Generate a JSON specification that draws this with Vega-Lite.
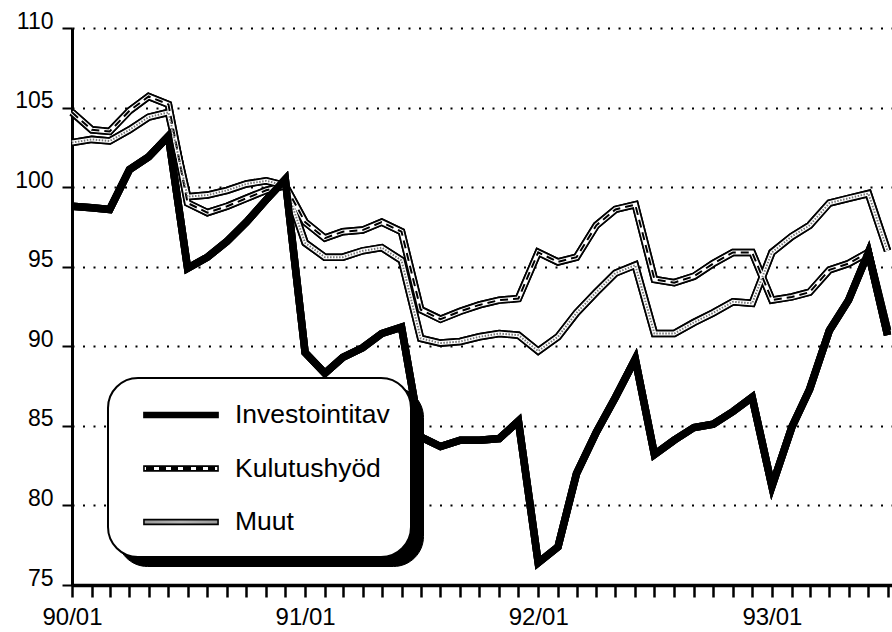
{
  "$schema": "https://vega.github.io/schema/vega-lite/v6.json",
  "width": 820,
  "height": 557,
  "autosize": {"type": "none"},
  "padding": {"left": 72, "top": 28, "right": 0, "bottom": 47},
  "background": "white",
  "config": {"view": {"stroke": null}, "font": "Liberation Sans"},
  "data": {
    "values": [
      {"month": "1990-01-01", "Investointitav": 98.8, "Kulutushyöd": 104.7, "Muut": 102.8},
      {"month": "1990-02-01", "Investointitav": 98.7, "Kulutushyöd": 103.6, "Muut": 103.0},
      {"month": "1990-03-01", "Investointitav": 98.6, "Kulutushyöd": 103.5, "Muut": 102.9},
      {"month": "1990-04-01", "Investointitav": 101.1, "Kulutushyöd": 104.8, "Muut": 103.6},
      {"month": "1990-05-01", "Investointitav": 101.9, "Kulutushyöd": 105.7, "Muut": 104.4},
      {"month": "1990-06-01", "Investointitav": 103.2, "Kulutushyöd": 105.2, "Muut": 104.7},
      {"month": "1990-07-01", "Investointitav": 94.9, "Kulutushyöd": 99.0, "Muut": 99.4},
      {"month": "1990-08-01", "Investointitav": 95.6, "Kulutushyöd": 98.4, "Muut": 99.5},
      {"month": "1990-09-01", "Investointitav": 96.6, "Kulutushyöd": 98.8, "Muut": 99.8},
      {"month": "1990-10-01", "Investointitav": 97.8, "Kulutushyöd": 99.3, "Muut": 100.2},
      {"month": "1990-11-01", "Investointitav": 99.2, "Kulutushyöd": 99.8, "Muut": 100.4},
      {"month": "1990-12-01", "Investointitav": 100.5, "Kulutushyöd": 100.1, "Muut": 100.1},
      {"month": "1991-01-01", "Investointitav": 89.6, "Kulutushyöd": 97.8, "Muut": 96.5},
      {"month": "1991-02-01", "Investointitav": 88.3, "Kulutushyöd": 96.8, "Muut": 95.6},
      {"month": "1991-03-01", "Investointitav": 89.3, "Kulutushyöd": 97.2, "Muut": 95.6},
      {"month": "1991-04-01", "Investointitav": 89.9, "Kulutushyöd": 97.3, "Muut": 96.0},
      {"month": "1991-05-01", "Investointitav": 90.8, "Kulutushyöd": 97.8, "Muut": 96.2},
      {"month": "1991-06-01", "Investointitav": 91.2, "Kulutushyöd": 97.2, "Muut": 95.4},
      {"month": "1991-07-01", "Investointitav": 84.3, "Kulutushyöd": 92.3, "Muut": 90.5},
      {"month": "1991-08-01", "Investointitav": 83.7, "Kulutushyöd": 91.7, "Muut": 90.2},
      {"month": "1991-09-01", "Investointitav": 84.1, "Kulutushyöd": 92.2, "Muut": 90.3},
      {"month": "1991-10-01", "Investointitav": 84.1, "Kulutushyöd": 92.6, "Muut": 90.6},
      {"month": "1991-11-01", "Investointitav": 84.2, "Kulutushyöd": 92.9, "Muut": 90.8},
      {"month": "1991-12-01", "Investointitav": 85.3, "Kulutushyöd": 93.0, "Muut": 90.7},
      {"month": "1992-01-01", "Investointitav": 76.4, "Kulutushyöd": 95.9, "Muut": 89.7},
      {"month": "1992-02-01", "Investointitav": 77.4, "Kulutushyöd": 95.3, "Muut": 90.6},
      {"month": "1992-03-01", "Investointitav": 82.0, "Kulutushyöd": 95.6, "Muut": 92.1},
      {"month": "1992-04-01", "Investointitav": 84.6, "Kulutushyöd": 97.6, "Muut": 93.4},
      {"month": "1992-05-01", "Investointitav": 86.8, "Kulutushyöd": 98.6, "Muut": 94.6},
      {"month": "1992-06-01", "Investointitav": 89.2, "Kulutushyöd": 98.9, "Muut": 95.1},
      {"month": "1992-07-01", "Investointitav": 83.2, "Kulutushyöd": 94.2, "Muut": 90.8},
      {"month": "1992-08-01", "Investointitav": 84.1, "Kulutushyöd": 94.0, "Muut": 90.8},
      {"month": "1992-09-01", "Investointitav": 84.9, "Kulutushyöd": 94.4, "Muut": 91.5},
      {"month": "1992-10-01", "Investointitav": 85.1, "Kulutushyöd": 95.2, "Muut": 92.1},
      {"month": "1992-11-01", "Investointitav": 85.9, "Kulutushyöd": 95.9, "Muut": 92.8},
      {"month": "1992-12-01", "Investointitav": 86.8, "Kulutushyöd": 95.9, "Muut": 92.7},
      {"month": "1993-01-01", "Investointitav": 81.2, "Kulutushyöd": 92.9, "Muut": 95.9},
      {"month": "1993-02-01", "Investointitav": 84.9, "Kulutushyöd": 93.1, "Muut": 96.9},
      {"month": "1993-03-01", "Investointitav": 87.3, "Kulutushyöd": 93.4, "Muut": 97.6},
      {"month": "1993-04-01", "Investointitav": 91.0, "Kulutushyöd": 94.8, "Muut": 99.0},
      {"month": "1993-05-01", "Investointitav": 92.9, "Kulutushyöd": 95.2, "Muut": 99.3},
      {"month": "1993-06-01", "Investointitav": 95.9, "Kulutushyöd": 95.9, "Muut": 99.6},
      {"month": "1993-07-01", "Investointitav": 90.7, "Kulutushyöd": 91.0, "Muut": 96.0}
    ]
  },
  "transform": [
    {"fold": ["Investointitav", "Kulutushyöd", "Muut"], "as": ["series", "value"]}
  ],
  "encoding": {
    "x": {
      "field": "month",
      "type": "temporal",
      "scale": {
        "type": "utc",
        "domain": [
          {"year": 1990, "month": 1, "date": 1, "utc": true},
          {"year": 1993, "month": 7, "date": 8, "utc": true}
        ]
      },
      "axis": {
        "title": null,
        "grid": false,
        "tickCount": {"interval": "month", "step": 1},
        "labelExpr": "utcmonth(datum.value) == 0 ? utcFormat(datum.value, '%y/%m') : ''",
        "labelOverlap": false,
        "labelFlush": false,
        "labelBound": false,
        "domainColor": "black",
        "domainWidth": 3.5,
        "tickColor": "black",
        "tickWidth": 2.5,
        "tickSize": 12,
        "labelFont": "Liberation Sans",
        "labelFontSize": 24,
        "labelColor": "black",
        "labelPadding": 8
      }
    },
    "y": {
      "field": "value",
      "type": "quantitative",
      "scale": {"domain": [75, 110], "nice": false, "zero": false},
      "axis": {
        "title": null,
        "values": [75, 80, 85, 90, 95, 100, 105, 110],
        "grid": true,
        "gridColor": "black",
        "gridDash": [2, 8.5],
        "gridWidth": 2,
        "domainColor": "black",
        "domainWidth": 3,
        "tickColor": "black",
        "tickWidth": 2,
        "tickSize": 10,
        "labelFont": "Liberation Sans",
        "labelFontSize": 23,
        "labelColor": "black",
        "labelPadding": 9,
        "labelBaseline": "alphabetic"
      }
    }
  },
  "layer": [
    {
      "mark": {"type": "line", "strokeWidth": 7.5},
      "encoding": {
        "color": {
          "field": "series",
          "type": "nominal",
          "scale": {"domain": ["Investointitav", "Kulutushyöd", "Muut"], "range": ["black", "black", "black"]},
          "legend": {
            "orient": "none", "legendX": 45, "legendY": 359, "title": null,
            "padding": 21, "symbolType": "M-0.07,-0.2H16.3V0.2H-0.07Z", "symbolSize": 900,
            "rowPadding": 23.5, "labelOffset": 74, "labelFontSize": 26.5,
            "labelExpr": "''", "symbolStrokeWidth": 1.6, "cornerRadius": 30,
            "fillColor": "black", "strokeColor": "black",
            "encode": {"symbols": {"update": {"fill": {"value": "black"}, "stroke": {"value": "black"}, "strokeWidth": {"value": 1.6}}}}
          }
        }
      }
    },
    {
      "mark": {"type": "line", "strokeWidth": 7.5},
      "encoding": {
        "color": {
          "field": "series",
          "type": "nominal",
          "scale": {"domain": ["Investointitav", "Kulutushyöd", "Muut"], "range": ["black", "black", "black"]},
          "legend": {
            "orient": "none", "legendX": 36, "legendY": 350, "title": null,
            "padding": 21, "symbolType": "M-0.07,-0.16H4.87V0.16H-0.07Z", "symbolSize": 900,
            "rowPadding": 23.5, "labelOffset": 74, "labelFontSize": 26.5, "labelFont": "Liberation Sans",
            "labelColor": "black", "symbolStrokeWidth": 1.6, "cornerRadius": 30,
            "fillColor": "white", "strokeColor": "black",
            "encode": {
              "legend": {"update": {"strokeWidth": {"value": 2}}},
              "symbols": {"update": {
                "stroke": {"value": "black"},
                "strokeWidth": {"value": 1.6},
                "fill": {"signal": "datum.value == 'Investointitav' ? 'black' : datum.value == 'Muut' ? {gradient: 'linear', x1: 0, y1: 0, x2: 1, y2: 0, stops: [{offset: 0, color: '#9a9a9a'}, {offset: 0.5, color: '#b5b5b5'}, {offset: 1, color: '#9a9a9a'}]} : {gradient: 'linear', x1: 0, y1: 0, x2: 1, y2: 0, stops: [{offset: 0, color: 'white'}, {offset: 0.03, color: 'white'}, {offset: 0.03, color: 'black'}, {offset: 0.13, color: 'black'}, {offset: 0.13, color: 'white'}, {offset: 0.197, color: 'white'}, {offset: 0.197, color: 'black'}, {offset: 0.297, color: 'black'}, {offset: 0.297, color: 'white'}, {offset: 0.363, color: 'white'}, {offset: 0.363, color: 'black'}, {offset: 0.463, color: 'black'}, {offset: 0.463, color: 'white'}, {offset: 0.53, color: 'white'}, {offset: 0.53, color: 'black'}, {offset: 0.63, color: 'black'}, {offset: 0.63, color: 'white'}, {offset: 0.697, color: 'white'}, {offset: 0.697, color: 'black'}, {offset: 0.797, color: 'black'}, {offset: 0.797, color: 'white'}, {offset: 0.863, color: 'white'}, {offset: 0.863, color: 'black'}, {offset: 0.963, color: 'black'}, {offset: 0.963, color: 'white'}, {offset: 1, color: 'white'}]}"}
              }}
            }
          }
        }
      }
    },
    {
      "transform": [{"filter": "datum.series != 'Investointitav'"}],
      "mark": {"type": "line", "strokeWidth": 4, "color": "white"},
      "encoding": {"detail": {"field": "series", "type": "nominal"}}
    },
    {
      "transform": [{"filter": "datum.series == 'Kulutushyöd'"}],
      "mark": {"type": "line", "strokeWidth": 2, "color": "black", "strokeDash": [8, 5]}
    },
    {
      "transform": [{"filter": "datum.series == 'Muut'"}],
      "mark": {"type": "line", "strokeWidth": 2, "color": "#777777", "strokeDash": [1.5, 1.5]}
    },
    {
      "transform": [{"filter": "datum.series == 'Investointitav'"}],
      "mark": {"type": "line", "strokeWidth": 7.5, "color": "black"}
    },
    {
      "data": {"values": [{"month": "1991-01-01"}, {"month": "1992-01-01"}, {"month": "1993-01-01"}]},
      "mark": {"type": "rule", "strokeWidth": 2.5, "color": "black"},
      "encoding": {
        "y": {"datum": 75},
        "y2": {"datum": 75.6}
      }
    }
  ],
  "resolve": {"scale": {"color": "independent"}}
}
